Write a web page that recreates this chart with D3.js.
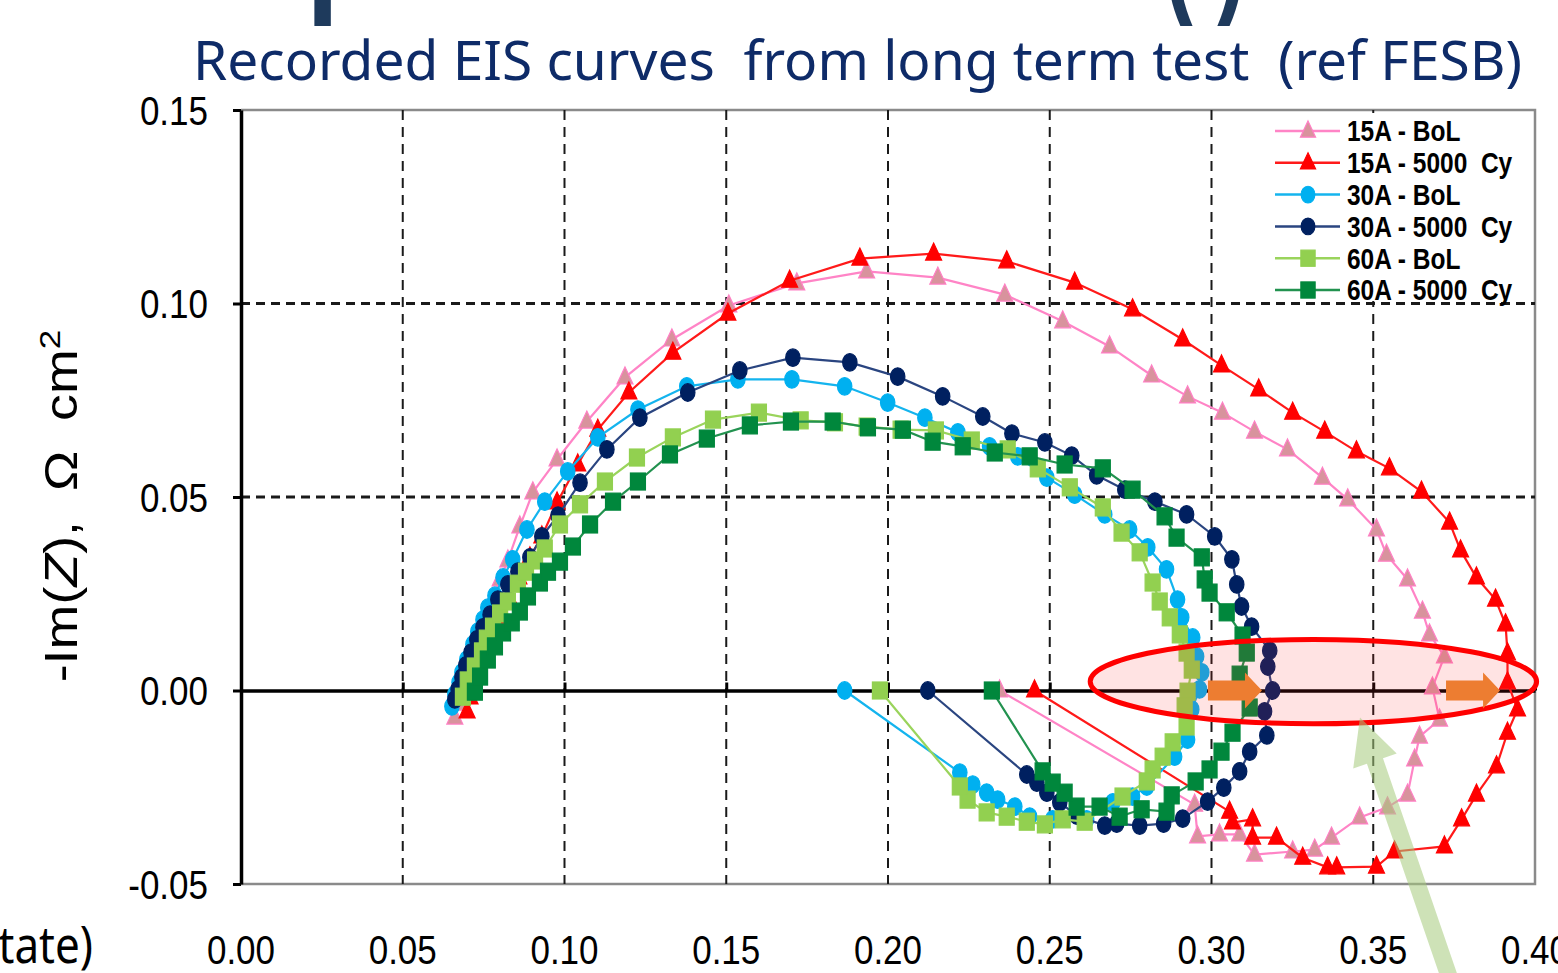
<!DOCTYPE html>
<html>
<head>
<meta charset="utf-8">
<script src="https://cdn.jsdelivr.net/npm/d3@7"></script>
<style>
  body { margin: 0; background: #fff; }
  svg { display: block; }
  text { white-space: pre; }
</style>
</head>
<body>
<svg id="chart" width="1558" height="973"></svg>
<script>
// EIS Nyquist curves: [Re(Z), -Im(Z)] in Ohm cm2
const xTicks = [0, 0.05, 0.10, 0.15, 0.20, 0.25, 0.30, 0.35, 0.40];
const yTicks = [-0.05, 0, 0.05, 0.10, 0.15];
const seriesLabels = ['15A - BoL', '15A - 5000  Cy', '30A - BoL', '30A - 5000  Cy', '60A - BoL', '60A - 5000  Cy'];

const bol15 = [
  [0.0661, -0.0070], [0.0671, -0.0034], [0.0680, 0.0003], [0.0692, 0.0039], [0.0705, 0.0075],
  [0.0720, 0.0114], [0.0739, 0.0152], [0.0757, 0.0194], [0.0779, 0.0238], [0.0801, 0.0287],
  [0.0825, 0.0336], [0.0862, 0.0424], [0.0902, 0.0512], [0.0977, 0.0597], [0.1069, 0.0695],
  [0.1187, 0.0809], [0.1332, 0.0907], [0.1508, 0.0995], [0.1718, 0.1052], [0.1934, 0.1083],
  [0.2154, 0.1067], [0.2361, 0.1023], [0.2540, 0.0954], [0.2685, 0.0889], [0.2815, 0.0814],
  [0.2926, 0.0760], [0.3034, 0.0718], [0.3133, 0.0669], [0.3235, 0.0623], [0.3343, 0.0550],
  [0.3421, 0.0494], [0.3510, 0.0416], [0.3541, 0.0351], [0.3606, 0.0287], [0.3652, 0.0204],
  [0.3674, 0.0145], [0.3720, 0.0088], [0.3683, 0.0008], [0.3705, -0.0075], [0.3643, -0.0119],
  [0.3628, -0.0178], [0.3606, -0.0269], [0.3544, -0.0302], [0.3458, -0.0328], [0.3371, -0.0380],
  [0.3319, -0.0411], [0.3251, -0.0416], [0.3133, -0.0424], [0.3087, -0.0372], [0.3025, -0.0372],
  [0.2957, -0.0377], [0.2948, -0.0295], [0.2345, 0.0000]
];

const cy15 = [
  [0.0699, -0.0054], [0.0708, -0.0018], [0.0720, 0.0018], [0.0736, 0.0059], [0.0754, 0.0101],
  [0.0776, 0.0145], [0.0801, 0.0191], [0.0828, 0.0240], [0.0859, 0.0292], [0.0893, 0.0344],
  [0.0930, 0.0398], [0.0977, 0.0486], [0.1041, 0.0584], [0.1103, 0.0674], [0.1199, 0.0770],
  [0.1335, 0.0873], [0.1505, 0.0974], [0.1696, 0.1059], [0.1913, 0.1116], [0.2141, 0.1129],
  [0.2367, 0.1109], [0.2577, 0.1054], [0.2756, 0.0985], [0.2911, 0.0907], [0.3031, 0.0840],
  [0.3146, 0.0778], [0.3251, 0.0718], [0.3350, 0.0669], [0.3448, 0.0618], [0.3550, 0.0574],
  [0.3649, 0.0514], [0.3736, 0.0434], [0.3770, 0.0362], [0.3819, 0.0292], [0.3878, 0.0235],
  [0.3909, 0.0171], [0.3915, 0.0096], [0.3915, 0.0021], [0.3946, -0.0049], [0.3915, -0.0109],
  [0.3881, -0.0196], [0.3819, -0.0269], [0.3773, -0.0333], [0.3720, -0.0403], [0.3566, -0.0416],
  [0.3510, -0.0455], [0.3387, -0.0457], [0.3359, -0.0457], [0.3282, -0.0432], [0.3201, -0.0380],
  [0.3127, -0.0380], [0.3127, -0.0333], [0.3065, -0.0341], [0.3056, -0.0313], [0.2453, 0.0000]
];

const bol30 = [
  [0.0652, -0.0041], [0.0661, -0.0010], [0.0674, 0.0021], [0.0683, 0.0047], [0.0698, 0.0080],
  [0.0717, 0.0119], [0.0732, 0.0152], [0.0748, 0.0183], [0.0763, 0.0214], [0.0785, 0.0245],
  [0.0810, 0.0292], [0.0840, 0.0339], [0.0884, 0.0416], [0.0939, 0.0488], [0.1010, 0.0566],
  [0.1103, 0.0654], [0.1227, 0.0726], [0.1378, 0.0786], [0.1536, 0.0804], [0.1703, 0.0804],
  [0.1866, 0.0786], [0.1999, 0.0744], [0.2114, 0.0705], [0.2216, 0.0667], [0.2314, 0.0631],
  [0.2401, 0.0605], [0.2491, 0.0550], [0.2577, 0.0506], [0.2670, 0.0455], [0.2747, 0.0416],
  [0.2803, 0.0370], [0.2861, 0.0313], [0.2895, 0.0235], [0.2908, 0.0189], [0.2942, 0.0137],
  [0.2954, 0.0088], [0.2970, 0.0047], [0.2963, 0.0003], [0.2939, -0.0049], [0.2926, -0.0127],
  [0.2886, -0.0171], [0.2800, -0.0248], [0.2756, -0.0274], [0.2695, -0.0289], [0.2614, -0.0333],
  [0.2509, -0.0333], [0.2438, -0.0326], [0.2392, -0.0300], [0.2339, -0.0282], [0.2305, -0.0264],
  [0.2262, -0.0243], [0.2222, -0.0212], [0.1866, 0.0000]
];

const cy30 = [
  [0.0661, -0.0023], [0.0671, 0.0003], [0.0683, 0.0034], [0.0695, 0.0065], [0.0711, 0.0098],
  [0.0729, 0.0132], [0.0748, 0.0163], [0.0770, 0.0196], [0.0794, 0.0235], [0.0825, 0.0274],
  [0.0856, 0.0307], [0.0893, 0.0344], [0.0930, 0.0398], [0.0980, 0.0452], [0.1048, 0.0537],
  [0.1131, 0.0623], [0.1233, 0.0705], [0.1381, 0.0770], [0.1542, 0.0827], [0.1706, 0.0860],
  [0.1882, 0.0848], [0.2030, 0.0811], [0.2169, 0.0760], [0.2293, 0.0708], [0.2383, 0.0664],
  [0.2485, 0.0641], [0.2568, 0.0607], [0.2645, 0.0556], [0.2732, 0.0519], [0.2825, 0.0488],
  [0.2923, 0.0455], [0.3010, 0.0398], [0.3063, 0.0339], [0.3078, 0.0274], [0.3093, 0.0217],
  [0.3124, 0.0165], [0.3180, 0.0103], [0.3174, 0.0062], [0.3189, 0.0000], [0.3164, -0.0054],
  [0.3171, -0.0116], [0.3118, -0.0158], [0.3087, -0.0209], [0.3038, -0.0251], [0.2988, -0.0287],
  [0.2911, -0.0331], [0.2852, -0.0344], [0.2778, -0.0349], [0.2707, -0.0344], [0.2670, -0.0349],
  [0.2583, -0.0323], [0.2531, -0.0289], [0.2491, -0.0264], [0.2460, -0.0238], [0.2429, -0.0217],
  [0.2123, 0.0000]
];

const bol60 = [
  [0.0686, -0.0016], [0.0701, 0.0026], [0.0723, 0.0062], [0.0745, 0.0101], [0.0760, 0.0134],
  [0.0779, 0.0165], [0.0801, 0.0199], [0.0825, 0.0230], [0.0856, 0.0276], [0.0881, 0.0307],
  [0.0909, 0.0336], [0.0939, 0.0367], [0.0986, 0.0429], [0.1048, 0.0481], [0.1125, 0.0540],
  [0.1224, 0.0602], [0.1335, 0.0654], [0.1459, 0.0700], [0.1601, 0.0718], [0.1730, 0.0698],
  [0.1836, 0.0693], [0.1934, 0.0682], [0.2039, 0.0674], [0.2148, 0.0672], [0.2259, 0.0646],
  [0.2370, 0.0623], [0.2463, 0.0574], [0.2562, 0.0525], [0.2664, 0.0473], [0.2722, 0.0408],
  [0.2778, 0.0357], [0.2818, 0.0279], [0.2840, 0.0230], [0.2871, 0.0189], [0.2902, 0.0145],
  [0.2923, 0.0098], [0.2939, 0.0054], [0.2926, -0.0003], [0.2917, -0.0041], [0.2923, -0.0093],
  [0.2880, -0.0134], [0.2849, -0.0171], [0.2818, -0.0204], [0.2800, -0.0235], [0.2725, -0.0274],
  [0.2608, -0.0339], [0.2540, -0.0333], [0.2485, -0.0346], [0.2429, -0.0339], [0.2367, -0.0326],
  [0.2305, -0.0315], [0.2246, -0.0282], [0.2222, -0.0248], [0.1975, 0.0000]
];

const cy60 = [
  [0.0723, -0.0003], [0.0739, 0.0036], [0.0763, 0.0080], [0.0785, 0.0114], [0.0810, 0.0150],
  [0.0837, 0.0176], [0.0862, 0.0204], [0.0887, 0.0243], [0.0924, 0.0279], [0.0949, 0.0307],
  [0.0986, 0.0333], [0.1026, 0.0372], [0.1079, 0.0429], [0.1150, 0.0488], [0.1227, 0.0540],
  [0.1326, 0.0610], [0.1440, 0.0651], [0.1573, 0.0685], [0.1700, 0.0695], [0.1829, 0.0695],
  [0.1938, 0.0680], [0.2046, 0.0674], [0.2138, 0.0643], [0.2231, 0.0631], [0.2330, 0.0615],
  [0.2438, 0.0605], [0.2546, 0.0584], [0.2664, 0.0574], [0.2756, 0.0519], [0.2855, 0.0450],
  [0.2892, 0.0395], [0.2970, 0.0344], [0.2979, 0.0287], [0.2994, 0.0253], [0.3047, 0.0202],
  [0.3096, 0.0142], [0.3109, 0.0098], [0.3087, 0.0041], [0.3118, -0.0044], [0.3065, -0.0109],
  [0.3031, -0.0158], [0.2994, -0.0204], [0.2951, -0.0235], [0.2877, -0.0271], [0.2861, -0.0313],
  [0.2784, -0.0307], [0.2716, -0.0326], [0.2654, -0.0300], [0.2583, -0.0300], [0.2546, -0.0264],
  [0.2509, -0.0238], [0.2478, -0.0209], [0.2321, 0.0000]
];

// annotations (data units)
const ellipseNote = {cx: 0.3315, cy: 0.0023, rx: 0.0690, ry: 0.0109};
const shiftArrows = [{x0: 0.2989, x1: 0.3156, y: 0}, {x0: 0.3725, x1: 0.3892, y: 0}];
const pointerArrow = {tail: [0.3743, -0.0760], tip: [0.3459, -0.0070]};

const styles = [
  {data: bol15, shape: 'triangle', fill: '#D8939D', stroke: '#FF7FC4', line: '#FF84C6'},
  {data: cy15, shape: 'triangle', fill: '#FF0000', stroke: '#FF0000', line: '#FF1A1A'},
  {data: bol30, shape: 'circle', fill: '#00B0F0', stroke: '#00B0F0', line: '#14B4EE'},
  {data: cy30, shape: 'circle', fill: '#002060', stroke: '#002060', line: '#2A4580'},
  {data: bol60, shape: 'square', fill: '#92D050', stroke: '#92D050', line: '#9AD45C'},
  {data: cy60, shape: 'square', fill: '#00873C', stroke: '#00873C', line: '#22924F'}
];

const svg = d3.select('#chart');
const x = d3.scaleLinear().domain([0, 0.40]).range([241, 1535]);
const y = d3.scaleLinear().domain([-0.05, 0.15]).range([884, 110]);
const STRETCH = 1.17;
const fmt = d => d.toFixed(2);

// cropped heading at the very top (only the descenders show)
const head = svg.append('text')
  .attr('transform', `translate(166,-3) scale(1,${STRETCH})`)
  .attr('font-family', 'Liberation Sans, Arial, sans-serif')
  .attr('font-weight', 'bold').attr('font-size', 120)
  .attr('fill', '#1E3A5C')
  .text('Impedance');
head.append('tspan').attr('x', 997)
  .attr('textLength', 84).attr('lengthAdjust', 'spacingAndGlyphs')
  .text('(I)');

// subtitle
svg.append('text')
  .attr('transform', `translate(193,80) scale(1,${STRETCH})`)
  .attr('font-family', 'Noto Sans, Open Sans, sans-serif')
  .attr('font-size', 47)
  .attr('fill', '#0E2B68')
  .attr('textLength', 1329).attr('lengthAdjust', 'spacingAndGlyphs')
  .attr('xml:space', 'preserve')
  .text('Recorded EIS curves  from long term test  (ref FESB)');

// plot frame (grey)
svg.append('path')
  .attr('d', `M${x(0)},${y(0.15)}H${x(0.40)}V${y(-0.05)}H${x(0)}`)
  .attr('fill', 'none').attr('stroke', '#8a8a8a').attr('stroke-width', 2.5);

// grid
svg.append('g').selectAll('line')
  .data(xTicks.filter(d => d > 0 && d < 0.40))
  .join('line')
  .attr('x1', d => x(d)).attr('x2', d => x(d))
  .attr('y1', y(0.15)).attr('y2', y(-0.05))
  .attr('stroke', '#1a1a1a').attr('stroke-width', 2).attr('stroke-dasharray', '10,7');
svg.append('g').selectAll('line')
  .data(yTicks.filter(d => d > 0 && d < 0.15))
  .join('line')
  .attr('x1', x(0)).attr('x2', x(0.40))
  .attr('y1', d => y(d)).attr('y2', d => y(d))
  .attr('stroke', '#1a1a1a').attr('stroke-width', 2.8).attr('stroke-dasharray', '9,6');

// zero line with upward ticks
svg.append('g')
  .attr('transform', `translate(0,${y(0)})`)
  .call(d3.axisTop(x).tickValues(xTicks).tickSize(8).tickSizeOuter(0).tickFormat(''))
  .call(g => g.select('.domain').attr('stroke', '#000').attr('stroke-width', 3.5))
  .call(g => g.selectAll('.tick line').attr('stroke', '#000').attr('stroke-width', 3));

// left axis
svg.append('g')
  .attr('transform', `translate(${x(0)},0)`)
  .call(d3.axisLeft(y).tickValues(yTicks).tickSize(8).tickSizeOuter(0).tickFormat(''))
  .call(g => g.select('.domain').attr('stroke', '#000').attr('stroke-width', 3.5))
  .call(g => g.selectAll('.tick line').attr('stroke', '#000').attr('stroke-width', 3));

// tick labels
svg.append('g').selectAll('text')
  .data(yTicks).join('text')
  .attr('transform', d => `translate(208,${y(d)}) scale(1,${STRETCH})`)
  .attr('dy', '0.36em').attr('text-anchor', 'end')
  .attr('font-family', 'Liberation Sans, Arial, sans-serif').attr('font-size', 35)
  .attr('fill', '#000')
  .text(fmt);
svg.append('g').selectAll('text')
  .data(xTicks).join('text')
  .attr('transform', d => `translate(${x(d)},964) scale(1,${STRETCH})`)
  .attr('text-anchor', 'middle')
  .attr('font-family', 'Liberation Sans, Arial, sans-serif').attr('font-size', 35)
  .attr('fill', '#000')
  .text(fmt);

// y axis title
const yTitle = svg.append('text')
  .attr('transform', `translate(77,506) rotate(-90) scale(${STRETCH},1)`)
  .attr('text-anchor', 'middle')
  .attr('font-family', 'Liberation Sans, Arial, sans-serif').attr('font-size', 46)
  .attr('fill', '#000')
  .attr('xml:space', 'preserve');
yTitle.append('tspan').text('-Im(');
yTitle.append('tspan').attr('font-style', 'italic').text('Z');
yTitle.append('tspan').text('),  \u03A9  cm');
yTitle.append('tspan').attr('font-size', 30).attr('dy', -17).text('2');

// cropped caption at bottom-left
svg.append('text')
  .attr('transform', `translate(93,963) scale(1,${STRETCH})`)
  .attr('text-anchor', 'end')
  .attr('font-family', 'Noto Sans, Open Sans, sans-serif').attr('font-size', 44)
  .attr('fill', '#000')
  .text('(steady state)');

// markers
function drawMarker(sel, shape, k) {
  const s = k || 1;
  if (shape === 'triangle') {
    sel.append('path').attr('d', `M0,${-10.5 * s}L${8 * s},${6.5 * s}L${-8 * s},${6.5 * s}Z`);
  } else if (shape === 'circle') {
    sel.append('ellipse').attr('rx', 7.2 * s).attr('ry', 8.8 * s);
  } else {
    sel.append('rect').attr('x', -7.5 * s).attr('y', -8.5 * s).attr('width', 15 * s).attr('height', 17 * s);
  }
}

const line = d3.line().x(d => x(d[0])).y(d => y(d[1]));

styles.forEach(st => {
  const g = svg.append('g');
  g.append('path')
    .attr('d', line(st.data))
    .attr('fill', 'none').attr('stroke', st.line).attr('stroke-width', 2.2);
  g.selectAll('g.m').data(st.data).join('g')
    .attr('class', 'm')
    .attr('transform', d => `translate(${x(d[0])},${y(d[1])})`)
    .attr('fill', st.fill).attr('stroke', st.stroke).attr('stroke-width', 1.2)
    .each(function() { drawMarker(d3.select(this), st.shape); });
});

// legend
const legend = svg.append('g');
legend.append('rect')
  .attr('x', 1266).attr('y', 113).attr('width', 267).attr('height', 188)
  .attr('fill', '#fff');
const rowY = i => 131 + i * 31.8;
styles.forEach((st, i) => {
  const r = legend.append('g').attr('transform', `translate(0,${rowY(i)})`);
  r.append('line').attr('x1', 1275).attr('x2', 1340).attr('y1', 0).attr('y2', 0)
    .attr('stroke', st.line).attr('stroke-width', 2.5);
  const m = r.append('g').attr('transform', 'translate(1308,0)')
    .attr('fill', st.fill).attr('stroke', st.stroke).attr('stroke-width', 1.2);
  drawMarker(m, st.shape, 0.95);
  r.append('text')
    .attr('transform', `translate(1347,0) scale(1,${STRETCH})`)
    .attr('dy', '0.36em')
    .attr('font-family', 'Liberation Sans, Arial, sans-serif')
    .attr('font-weight', 'bold').attr('font-size', 24.5)
    .attr('fill', '#000')
    .attr('xml:space', 'preserve')
    .text(seriesLabels[i]);
});

// red highlight ellipse
svg.append('ellipse')
  .attr('cx', x(ellipseNote.cx)).attr('cy', y(ellipseNote.cy))
  .attr('rx', x(ellipseNote.cx + ellipseNote.rx) - x(ellipseNote.cx))
  .attr('ry', y(ellipseNote.cy) - y(ellipseNote.cy + ellipseNote.ry))
  .attr('fill', 'rgba(255,40,40,0.13)')
  .attr('stroke', '#FF0000').attr('stroke-width', 5);

// orange shift arrows
svg.append('g').selectAll('path')
  .data(shiftArrows).join('path')
  .attr('d', d => {
    const a = x(d.x0), b = x(d.x1), c = y(d.y), h = b - 17;
    return `M${a},${c - 10}H${h}V${c - 18}L${b},${c}L${h},${c + 18}V${c + 10}H${a}Z`;
  })
  .attr('fill', '#ED7D31');

// light green pointer arrow
(function() {
  const t0 = [x(pointerArrow.tail[0]), y(pointerArrow.tail[1])];
  const t1 = [x(pointerArrow.tip[0]), y(pointerArrow.tip[1])];
  const dx = t1[0] - t0[0], dy = t1[1] - t0[1];
  const len = Math.hypot(dx, dy);
  const ux = dx / len, uy = dy / len, px = -uy, py = ux;
  const headLen = 46, headW = 23, shaftW = 8.5;
  const bx = t1[0] - ux * headLen, by = t1[1] - uy * headLen;
  const pts = [
    [t0[0] + px * shaftW, t0[1] + py * shaftW],
    [bx + px * shaftW, by + py * shaftW],
    [bx + px * headW, by + py * headW],
    t1,
    [bx - px * headW, by - py * headW],
    [bx - px * shaftW, by - py * shaftW],
    [t0[0] - px * shaftW, t0[1] - py * shaftW]
  ];
  svg.append('path')
    .attr('d', 'M' + pts.map(p => p.join(',')).join('L') + 'Z')
    .attr('fill', '#A6CB7C').attr('opacity', 0.55);
})();
</script>
</body>
</html>
